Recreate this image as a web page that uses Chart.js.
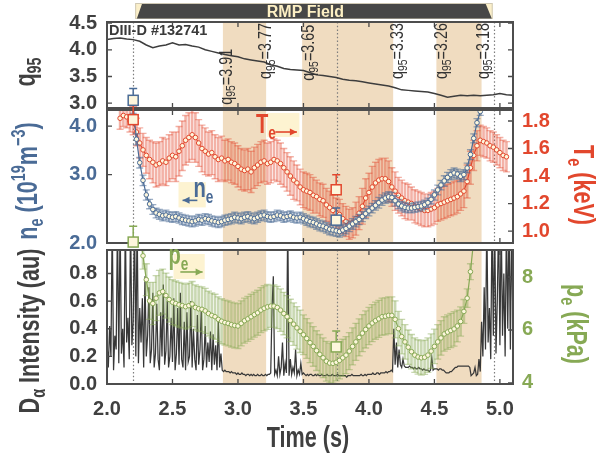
<!DOCTYPE html>
<html>
<head>
<meta charset="utf-8">
<script src="https://cdn.jsdelivr.net/npm/chart.js@4.4.1/dist/chart.umd.min.js"></script>
<style>
  html, body { margin: 0; padding: 0; background: #fff; }
  #wrap { position: relative; width: 596px; height: 457px; overflow: hidden; }
  #wrap canvas { position: absolute; left: 0; top: 0; }
</style>
</head>
<body>
<div id="wrap">
  <canvas id="cq" width="596" height="457"></canvas>
  <canvas id="cm" width="596" height="457"></canvas>
  <canvas id="cb" width="596" height="457"></canvas>
</div>
<script>
const FONT = '"Liberation Sans", Arial, Helvetica, sans-serif';
Chart.defaults.font.family = FONT;

// ---- axes / ticks ----
const xTicks = [2.0, 2.5, 3.0, 3.5, 4.0, 4.5, 5.0];
const q95Ticks = [3.0, 3.5, 4.0, 4.5];
const neTicks = [2.0, 3.0, 4.0];
const teTicks = [1.0, 1.2, 1.4, 1.6, 1.8];
const daTicks = [0.0, 0.2, 0.4, 0.6, 0.8];
const peTicks = [4, 6, 8];

// ---- time windows ----
const bandStart = [2.885, 3.49, 4.515];
const bandEnd = [3.215, 4.185, 4.86];
const markTimes = [2.2, 3.755, 4.955];
const rmpBox = [2.215, 4.945];
const rmpRamp = [2.228, 2.267, 4.892, 4.938];

// ---- q95 (every 0.05 s from 2.0) ----
const Q95_T0 = 2.0, Q95_DT = 0.05;
const q95Val = [
  4.19, 4.21, 4.22, 4.20, 4.19, 4.16, 4.09, 4.04, 4.07, 4.09,
  4.13, 4.09, 4.10, 4.07, 4.05, 4.00, 3.97, 3.94, 3.91, 3.89,
  3.87, 3.83, 3.81, 3.79, 3.77, 3.72, 3.69, 3.65, 3.63, 3.62,
  3.61, 3.57, 3.53, 3.52, 3.50, 3.48, 3.45, 3.43, 3.42, 3.40,
  3.38, 3.36, 3.34, 3.32, 3.29, 3.25, 3.24, 3.23, 3.22, 3.21,
  3.18, 3.15, 3.11, 3.13, 3.15, 3.14, 3.15, 3.14, 3.15, 3.16,
  3.18, 3.16, 3.15
];
const q95Labels = ['3.91', '3.77', '3.65', '3.33', '3.26', '3.18'];
const q95LabelTimes = [2.915, 3.215, 3.546, 4.223, 4.558, 4.877];
const q95LabelTop = [4.02, 4.50, 4.47, 4.50, 4.50, 4.50];

// ---- Te (keV), every 0.025 s from 2.1 ----
const TE_T0 = 2.1, STEP = 0.025;
const teVal = [
  1.82, 1.84, 1.83, 1.80, 1.79, 1.72, 1.64, 1.59, 1.55, 1.52,
  1.50, 1.48, 1.49, 1.51, 1.50, 1.53, 1.55, 1.54, 1.58, 1.62,
  1.66, 1.68, 1.70, 1.68, 1.64, 1.60, 1.58, 1.56, 1.57, 1.54,
  1.52, 1.53, 1.51, 1.52, 1.50, 1.49, 1.47, 1.45, 1.44, 1.45,
  1.43, 1.46, 1.48, 1.50, 1.51, 1.49, 1.50, 1.52, 1.51, 1.49,
  1.46, 1.43, 1.40, 1.37, 1.35, 1.32, 1.30, 1.29, 1.28, 1.26,
  1.25, 1.23, 1.22, 1.19, 1.17, 1.15, 1.13, 1.12, 1.09, 1.07,
  1.05, 1.06, 1.09, 1.13, 1.18, 1.24, 1.28, 1.32, 1.35, 1.37,
  1.38, 1.38, 1.36, 1.32, 1.29, 1.26, 1.24, 1.22, 1.21, 1.20,
  1.18, 1.17, 1.16, 1.15, 1.15, 1.16, 1.17, 1.19, 1.20, 1.21,
  1.22, 1.23, 1.24, 1.25, 1.27, 1.29, 1.36, 1.46, 1.55, 1.62,
  1.66, 1.65, 1.64, 1.62, 1.61, 1.59, 1.57, 1.55, 1.54
];
const teErr = [
  0.08, 0.08, 0.08, 0.08, 0.09, 0.10, 0.11, 0.12, 0.13, 0.14,
  0.15, 0.16, 0.16, 0.17, 0.17, 0.17, 0.17, 0.18, 0.18, 0.18,
  0.18, 0.18, 0.18, 0.18, 0.17, 0.17, 0.17, 0.16, 0.16, 0.16,
  0.16, 0.16, 0.15, 0.15, 0.15, 0.15, 0.15, 0.15, 0.15, 0.15,
  0.15, 0.15, 0.15, 0.15, 0.15, 0.15, 0.15, 0.15, 0.15, 0.15,
  0.14, 0.14, 0.14, 0.14, 0.13, 0.13, 0.13, 0.13, 0.13, 0.13,
  0.12, 0.12, 0.12, 0.12, 0.12, 0.11, 0.11, 0.11, 0.11, 0.11,
  0.11, 0.11, 0.12, 0.12, 0.13, 0.14, 0.14, 0.15, 0.15, 0.15,
  0.15, 0.15, 0.15, 0.14, 0.14, 0.13, 0.13, 0.13, 0.13, 0.12,
  0.12, 0.12, 0.12, 0.12, 0.12, 0.12, 0.12, 0.12, 0.12, 0.12,
  0.12, 0.12, 0.12, 0.12, 0.12, 0.12, 0.12, 0.12, 0.11, 0.11,
  0.11, 0.11, 0.11, 0.11, 0.11, 0.11, 0.11, 0.11, 0.11
];

// ---- ne (1e19 m^-3), every 0.025 s from 2.2 ----
const NE_T0 = 2.2;
const neVal = [
  4.45, 3.70, 3.22, 2.90, 2.66, 2.52, 2.44, 2.39, 2.37, 2.35,
  2.36, 2.34, 2.33, 2.34, 2.32, 2.30, 2.29, 2.28, 2.27, 2.28,
  2.30, 2.29, 2.31, 2.30, 2.28, 2.27, 2.26, 2.27, 2.29, 2.30,
  2.31, 2.33, 2.32, 2.31, 2.33, 2.34, 2.32, 2.31, 2.33, 2.35,
  2.36, 2.34, 2.33, 2.34, 2.36, 2.35, 2.33, 2.34, 2.35, 2.33,
  2.32, 2.33, 2.31, 2.29, 2.27, 2.26, 2.24, 2.22, 2.21, 2.19,
  2.17, 2.16, 2.15, 2.14, 2.16, 2.18, 2.21, 2.24, 2.27, 2.30,
  2.34, 2.38, 2.42, 2.46, 2.50, 2.54, 2.58, 2.61, 2.63, 2.62,
  2.57, 2.52, 2.49, 2.47, 2.46, 2.46, 2.47, 2.48, 2.49, 2.51,
  2.54, 2.59, 2.66, 2.74, 2.82, 2.89, 2.95, 3.00, 3.03, 3.01,
  2.97, 3.00, 3.12, 3.38, 3.72, 4.08, 4.36
];
const neErr = [
  0.14, 0.12, 0.10, 0.09, 0.08, 0.07, 0.07, 0.07, 0.07, 0.07,
  0.07, 0.07, 0.07, 0.07, 0.07, 0.07, 0.07, 0.07, 0.07, 0.07,
  0.07, 0.07, 0.07, 0.07, 0.07, 0.07, 0.07, 0.07, 0.07, 0.07,
  0.07, 0.07, 0.07, 0.07, 0.07, 0.07, 0.07, 0.07, 0.07, 0.07,
  0.07, 0.07, 0.07, 0.07, 0.07, 0.07, 0.07, 0.07, 0.07, 0.07,
  0.07, 0.07, 0.07, 0.07, 0.07, 0.07, 0.07, 0.07, 0.07, 0.07,
  0.07, 0.07, 0.07, 0.07, 0.07, 0.07, 0.07, 0.07, 0.07, 0.07,
  0.07, 0.07, 0.07, 0.07, 0.07, 0.08, 0.08, 0.08, 0.08, 0.08,
  0.08, 0.07, 0.07, 0.07, 0.07, 0.07, 0.07, 0.07, 0.07, 0.07,
  0.07, 0.07, 0.08, 0.08, 0.08, 0.09, 0.09, 0.09, 0.09, 0.09,
  0.09, 0.09, 0.09, 0.10, 0.10, 0.10, 0.10
];

// ---- pe (kPa), every 0.025 s from 2.25 ----
const PE_T0 = 2.25;
const peVal = [
  9.60, 8.80, 7.90, 7.10, 7.00, 7.20, 7.40, 7.45, 7.30, 7.15,
  7.05, 7.00, 6.95, 6.92, 6.88, 6.92, 6.98, 6.85, 6.80, 6.78,
  6.72, 6.62, 6.55, 6.50, 6.40, 6.33, 6.28, 6.25, 6.20, 6.17,
  6.15, 6.25, 6.35, 6.42, 6.50, 6.58, 6.65, 6.75, 6.82, 6.87,
  6.90, 6.90, 6.85, 6.75, 6.62, 6.50, 6.36, 6.22, 6.08, 5.95,
  5.82, 5.68, 5.52, 5.38, 5.22, 5.08, 4.95, 4.82, 4.75, 4.74,
  4.78, 4.85, 4.95, 5.05, 5.20, 5.38, 5.55, 5.72, 5.88, 6.02,
  6.15, 6.26, 6.35, 6.42, 6.50, 6.52, 6.55, 6.55, 6.40, 6.05,
  5.75, 5.55, 5.35, 5.18, 5.05, 4.98, 4.95, 4.97, 5.05, 5.20,
  5.38, 5.55, 5.70, 5.85, 5.92, 5.98, 6.04, 6.15, 6.32, 6.70,
  7.20, 8.20, 9.40
];
const peErr = [
  0.40, 0.50, 0.60, 0.70, 0.80, 0.85, 0.85, 0.85, 0.85, 0.85,
  0.85, 0.85, 0.85, 0.85, 0.85, 0.85, 0.85, 0.85, 0.85, 0.85,
  0.85, 0.85, 0.85, 0.85, 0.85, 0.85, 0.85, 0.85, 0.85, 0.85,
  0.85, 0.85, 0.85, 0.85, 0.85, 0.85, 0.85, 0.85, 0.85, 0.85,
  0.80, 0.80, 0.80, 0.80, 0.80, 0.80, 0.80, 0.80, 0.80, 0.80,
  0.75, 0.75, 0.75, 0.75, 0.75, 0.75, 0.75, 0.75, 0.75, 0.75,
  0.70, 0.70, 0.70, 0.70, 0.70, 0.70, 0.70, 0.70, 0.70, 0.70,
  0.70, 0.70, 0.70, 0.70, 0.70, 0.70, 0.70, 0.70, 0.70, 0.65,
  0.65, 0.65, 0.65, 0.65, 0.65, 0.65, 0.65, 0.65, 0.65, 0.65,
  0.65, 0.65, 0.65, 0.65, 0.65, 0.65, 0.65, 0.60, 0.55, 0.45,
  0.35, 0.30, 0.30
];

// ---- D-alpha (au), every 0.01 s from 2.0 ----
const DA_T0 = 2.0, DA_DT = 0.01;
const daVal = [
  0.30, 0.12, 0.42, 0.20, 1.20, 0.10, 0.35, 0.25, 1.20, 0.15,
  1.20, 0.22, 0.40, 0.12, 1.20, 0.30, 0.48, 0.18, 1.20, 0.28,
  0.45, 1.20, 0.20, 1.20, 0.15, 0.55, 0.30, 0.62, 0.12, 0.78,
  0.20, 0.35, 0.70, 0.15, 0.25, 0.66, 0.12, 0.22, 0.58, 0.18,
  0.10, 0.52, 0.20, 0.72, 0.14, 0.24, 0.60, 0.12, 0.20, 0.48,
  0.16, 0.62, 0.10, 0.22, 0.55, 0.14, 0.66, 0.18, 0.12, 0.45,
  0.10, 0.52, 0.16, 0.20, 0.60, 0.12, 0.40, 0.18, 0.10, 0.50,
  0.14, 0.25, 0.55, 0.10, 0.18, 0.42, 0.12, 0.30, 0.16, 0.38,
  0.10, 0.36, 0.14, 0.28, 0.10, 0.45, 0.12, 0.22, 0.10, 0.09,
  0.10, 0.09, 0.09, 0.09, 0.08, 0.09, 0.08, 0.08, 0.08, 0.07,
  0.08, 0.07, 0.07, 0.08, 0.07, 0.07, 0.06, 0.07, 0.07, 0.06,
  0.07, 0.06, 0.07, 0.06, 0.06, 0.07, 0.06, 0.06, 0.07, 0.06,
  0.06, 0.07, 0.06, 0.07, 0.07, 0.08, 0.55, 0.78, 0.07, 0.10,
  0.06, 0.20, 0.07, 0.12, 0.30, 0.06, 0.15, 0.08, 1.20, 0.06,
  0.18, 0.07, 0.12, 0.08, 0.25, 0.06, 0.10, 0.07, 0.15, 0.07,
  0.08, 0.07, 0.06, 0.07, 0.06, 0.07, 0.07, 0.06, 0.06, 0.07,
  0.06, 0.07, 0.06, 0.06, 0.07, 0.06, 0.06, 0.06, 0.07, 0.06,
  0.06, 0.06, 0.07, 0.06, 0.06, 0.06, 0.07, 0.06, 0.06, 0.06,
  0.06, 0.06, 0.06, 0.05, 0.06, 0.06, 0.06, 0.07, 0.06, 0.06,
  0.06, 0.06, 0.06, 0.06, 0.07, 0.06, 0.06, 0.07, 0.06, 0.07,
  0.07, 0.07, 0.07, 0.08, 0.07, 0.07, 0.08, 0.08, 0.07, 0.08,
  0.08, 0.08, 0.08, 0.09, 0.08, 0.09, 0.09, 0.10, 0.09, 0.40,
  0.14, 0.30, 0.12, 0.25, 0.14, 0.12, 0.18, 0.13, 0.12, 0.12,
  0.12, 0.13, 0.12, 0.12, 0.11, 0.12, 0.11, 0.11, 0.12, 0.11,
  0.11, 0.10, 0.11, 0.10, 0.10, 0.10, 0.09, 0.10, 0.19, 0.10,
  0.11, 0.11, 0.11, 0.10, 0.11, 0.11, 0.10, 0.10, 0.09, 0.08,
  0.08, 0.08, 0.09, 0.09, 0.10, 0.11, 0.12, 0.12, 0.13, 0.13,
  0.13, 0.13, 0.13, 0.13, 0.13, 0.13, 0.13, 0.12, 0.06, 0.07,
  0.08, 0.12, 0.06, 0.07, 0.18, 0.09, 0.45, 0.20, 0.70, 0.25,
  1.20, 0.30, 0.55, 0.18, 1.20, 0.35, 1.20, 0.22, 0.60, 1.20,
  0.28, 1.20, 0.35, 0.80, 0.20, 1.20, 0.40, 1.20, 0.25, 1.20,
  0.35
];

// ---- reference (square) points ----
const refTime = [2.2, 3.75];
const neRef = [4.66, 2.29], neRefErr = [0.34, 0.17];
const teRef = [1.81, 1.30], teRefErr = [0.10, 0.11];
const peRef = [9.32, 5.36], peRefErr = [0.60, 0.60];

// ---- colours ----
const TXT = '#404040';
const NE_C = '#4a6b96';
const TE_C = '#e2472d';
const PE_C = '#87a955';
const BAND = '#f0dcc0';
const CREAM = '#fdf6dc';
const TAGBG = '#fdf3d1';

const times = (t0, dt, arr) => arr.map((_, i) => +(t0 + i * dt).toFixed(3));
const toPts = (ts, vs) => ts.map((t, i) => ({ x: t, y: vs[i] }));

const q95Time = times(Q95_T0, Q95_DT, q95Val);
const teTime = times(TE_T0, STEP, teVal);
const neTime = times(NE_T0, STEP, neVal);
const peTime = times(PE_T0, STEP, peVal);
const daTime = times(DA_T0, DA_DT, daVal);

// in-plot tags (anchored in data units)
const tags = {
  mid: [
    { axis: 'yt', main: 'T', color: TE_C, t: 3.138, v: 1.713, box: [3.223, 3.469, 1.684, 1.858], arrow: [3.285, 3.45, 1.72], dir: 1 },
    { axis: 'yn', main: 'n', color: NE_C, t: 2.66, v: 2.63, box: [2.546, 2.754, 2.47, 2.87], arrow: [2.577, 2.69, 2.575], dir: -1 }
  ],
  bot: [
    { axis: 'yp', main: 'p', color: PE_C, t: 2.47, v: 8.49, box: [2.508, 2.746, 7.92, 8.87], arrow: [2.56, 2.73, 8.19], dir: 1 }
  ]
};

function drawRich(ctx, runs, x, y, o) {
  ctx.save();
  ctx.translate(x, y);
  if (o.rot) ctx.rotate(o.rot);
  if (o.sx) ctx.scale(o.sx, 1);
  ctx.fillStyle = o.color;
  ctx.textAlign = 'left';
  ctx.textBaseline = o.base || 'alphabetic';
  const w = o.weight || 'bold';
  let total = 0;
  const widths = runs.map(r => {
    ctx.font = w + ' ' + r.s + 'px ' + FONT;
    const m = ctx.measureText(r.t).width;
    total += m;
    return m;
  });
  let cx = o.align === 'center' ? -total / 2 : o.align === 'right' ? -total : 0;
  runs.forEach((r, i) => {
    ctx.font = w + ' ' + r.s + 'px ' + FONT;
    ctx.fillText(r.t, cx, r.dy || 0);
    cx += widths[i];
  });
  ctx.restore();
}

function drawBands(chart) {
  const { ctx, chartArea: a } = chart, xs = chart.scales.x;
  ctx.save();
  ctx.fillStyle = BAND;
  bandStart.forEach((s, i) => {
    const x0 = xs.getPixelForValue(s), x1 = xs.getPixelForValue(bandEnd[i]);
    ctx.fillRect(x0, a.top, x1 - x0, a.bottom - a.top);
  });
  ctx.strokeStyle = '#7d7d7d';
  ctx.lineWidth = 1.2;
  ctx.setLineDash([1.5, 2.2]);
  ctx.beginPath();
  markTimes.forEach(t => {
    const x = Math.round(xs.getPixelForValue(t)) + 0.5;
    ctx.moveTo(x, a.top);
    ctx.lineTo(x, a.bottom);
  });
  ctx.stroke();
  ctx.restore();
}

function drawErrBars(chart, yId, eb) {
  const { ctx, chartArea: a } = chart, xs = chart.scales.x, ys = chart.scales[yId];
  ctx.save();
  ctx.beginPath();
  ctx.rect(a.left, a.top, a.right - a.left, a.bottom - a.top);
  ctx.clip();
  ctx.strokeStyle = eb.color;
  ctx.lineWidth = eb.lw;
  ctx.beginPath();
  eb.t.forEach((t, i) => {
    const x = xs.getPixelForValue(t);
    const yHi = ys.getPixelForValue(eb.v[i] + eb.e[i]);
    const yLo = ys.getPixelForValue(eb.v[i] - eb.e[i]);
    ctx.moveTo(x, yLo); ctx.lineTo(x, yHi);
  });
  ctx.stroke();
  ctx.lineWidth = 1.3;
  ctx.beginPath();
  eb.t.forEach((t, i) => {
    const x = xs.getPixelForValue(t);
    const yHi = ys.getPixelForValue(eb.v[i] + eb.e[i]);
    const yLo = ys.getPixelForValue(eb.v[i] - eb.e[i]);
    ctx.moveTo(x - eb.cap, yHi); ctx.lineTo(x + eb.cap, yHi);
    ctx.moveTo(x - eb.cap, yLo); ctx.lineTo(x + eb.cap, yLo);
  });
  ctx.stroke();
  ctx.restore();
}

function drawRefs(chart, yId, vals, errs, color) {
  const ctx = chart.ctx, xs = chart.scales.x, ys = chart.scales[yId];
  ctx.save();
  refTime.forEach((t, i) => {
    const x = xs.getPixelForValue(t), y = ys.getPixelForValue(vals[i]);
    const yt = ys.getPixelForValue(vals[i] + errs[i]);
    ctx.strokeStyle = color;
    ctx.lineWidth = 1.5;
    ctx.beginPath();
    ctx.moveTo(x, y); ctx.lineTo(x, yt);
    ctx.moveTo(x - 4, yt); ctx.lineTo(x + 4, yt);
    ctx.stroke();
    ctx.fillStyle = CREAM;
    ctx.fillRect(x - 5, y - 5, 10, 10);
    ctx.strokeRect(x - 5, y - 5, 10, 10);
  });
  ctx.restore();
}

function drawFrame(chart, yl, lt, yr, rt) {
  const { ctx, chartArea: a } = chart, xs = chart.scales.x;
  ctx.save();
  ctx.strokeStyle = '#4a4a4a';
  ctx.lineWidth = 1.3;
  ctx.beginPath();
  xTicks.forEach(t => {
    const x = xs.getPixelForValue(t);
    ctx.moveTo(x, a.bottom); ctx.lineTo(x, a.bottom - 5);
    ctx.moveTo(x, a.top); ctx.lineTo(x, a.top + 5);
  });
  lt.forEach(v => {
    const y = chart.scales[yl].getPixelForValue(v);
    ctx.moveTo(a.left, y); ctx.lineTo(a.left + 5, y);
    if (!yr) { ctx.moveTo(a.right, y); ctx.lineTo(a.right - 5, y); }
  });
  if (yr) rt.forEach(v => {
    const y = chart.scales[yr].getPixelForValue(v);
    ctx.moveTo(a.right, y); ctx.lineTo(a.right - 5, y);
  });
  ctx.stroke();
  ctx.lineWidth = 2;
  ctx.strokeStyle = '#4d4d4d';
  ctx.strokeRect(a.left, a.top, a.right - a.left, a.bottom - a.top);
  ctx.restore();
}

function drawTag(chart, tag) {
  const ctx = chart.ctx, xs = chart.scales.x, ys = chart.scales[tag.axis];
  const bx0 = xs.getPixelForValue(tag.box[0]), bx1 = xs.getPixelForValue(tag.box[1]);
  const by0 = ys.getPixelForValue(tag.box[3]), by1 = ys.getPixelForValue(tag.box[2]);
  ctx.save();
  ctx.fillStyle = TAGBG;
  ctx.fillRect(bx0, by0, bx1 - bx0, by1 - by0);
  drawRich(ctx, [{ t: tag.main, s: 28 }, { t: 'e', s: 19, dy: 6 }],
    xs.getPixelForValue(tag.t), ys.getPixelForValue(tag.v), { color: tag.color, sx: 0.72 });
  const ax0 = xs.getPixelForValue(tag.arrow[0]), ax1 = xs.getPixelForValue(tag.arrow[1]);
  const ay = ys.getPixelForValue(tag.arrow[2]);
  const tip = tag.dir > 0 ? ax1 : ax0;
  ctx.strokeStyle = tag.color;
  ctx.fillStyle = tag.color;
  ctx.lineWidth = 1.6;
  ctx.beginPath();
  ctx.moveTo(ax0, ay); ctx.lineTo(ax1, ay);
  ctx.stroke();
  ctx.beginPath();
  ctx.moveTo(tip, ay);
  ctx.lineTo(tip - tag.dir * 7, ay - 3.5);
  ctx.lineTo(tip - tag.dir * 7, ay + 3.5);
  ctx.closePath();
  ctx.fill();
  ctx.restore();
}

const R90 = Math.PI / 2;

const decor = {
  id: 'decor',
  beforeDatasetsDraw(chart) { drawBands(chart); },
  beforeDatasetDraw(chart, args) {
    const ds = chart.data.datasets[args.index];
    if (ds.errBars) drawErrBars(chart, ds.yAxisID, ds.errBars);
  },
  afterDatasetsDraw(chart, args, opts) {
    const ctx = chart.ctx, xs = chart.scales.x;
    if (opts.panel === 'top') {
      drawFrame(chart, 'yq', q95Ticks);
      const yq = chart.scales.yq;
      q95Labels.forEach((lab, i) => {
        drawRich(ctx, [{ t: 'q', s: 18 }, { t: '95', s: 13, dy: 5 }, { t: '=' + lab, s: 18 }],
          xs.getPixelForValue(q95LabelTimes[i]), yq.getPixelForValue(q95LabelTop[i]),
          { rot: -R90, align: 'right', base: 'middle', color: '#333', weight: 'normal', sx: 0.8 });
      });
      ctx.save();
      ctx.fillStyle = '#3a3a3a';
      ctx.font = 'bold 14.5px ' + FONT;
      ctx.textBaseline = 'alphabetic';
      ctx.fillText('DIII-D #132741', chart.chartArea.left + 2, chart.chartArea.top + 13);
      ctx.restore();
    } else if (opts.panel === 'mid') {
      drawFrame(chart, 'yn', neTicks, 'yt', teTicks);
      tags.mid.forEach(t => drawTag(chart, t));
      drawRefs(chart, 'yt', teRef, teRefErr, TE_C);
      drawRefs(chart, 'yn', neRef, neRefErr, NE_C);
    } else {
      drawFrame(chart, 'yd', daTicks, 'yp', peTicks);
      tags.bot.forEach(t => drawTag(chart, t));
      drawRefs(chart, 'yp', peRef, peRefErr, PE_C);
    }
  },
  afterDraw(chart, args, opts) {
    const ctx = chart.ctx, xs = chart.scales.x;
    if (opts.panel === 'top') {
      drawRich(ctx, [{ t: 'q', s: 30 }, { t: '95', s: 20, dy: 6 }], 35, 72,
        { rot: -R90, align: 'center', color: TXT, sx: 0.72 });
      // RMP field bar
      const xb0 = xs.getPixelForValue(rmpBox[0]), xb1 = xs.getPixelForValue(rmpBox[1]);
      ctx.save();
      ctx.fillStyle = '#fbefc9';
      ctx.fillRect(xb0, 3, xb1 - xb0, 16);
      ctx.strokeStyle = '#cfc8b4';
      ctx.lineWidth = 1;
      ctx.strokeRect(xb0 + 0.5, 3.5, xb1 - xb0 - 1, 15);
      ctx.fillStyle = '#474747';
      ctx.beginPath();
      ctx.moveTo(xs.getPixelForValue(rmpRamp[0]), 18.5);
      ctx.lineTo(xs.getPixelForValue(rmpRamp[1]), 4);
      ctx.lineTo(xs.getPixelForValue(rmpRamp[2]), 4);
      ctx.lineTo(xs.getPixelForValue(rmpRamp[3]), 18.5);
      ctx.closePath();
      ctx.fill();
      ctx.restore();
      drawRich(ctx, [{ t: 'RMP Field', s: 16 }], xs.getPixelForValue(3.515), 17,
        { align: 'center', color: '#fdf0c4' });
    } else if (opts.panel === 'mid') {
      drawRich(ctx, [
        { t: 'n', s: 30 }, { t: 'e', s: 20, dy: 6 }, { t: ' (10', s: 30 },
        { t: '19', s: 20, dy: -12 }, { t: 'm', s: 30 }, { t: '\u22123', s: 20, dy: -12 }, { t: ')', s: 30 }
      ], 37, 181, { rot: -R90, align: 'center', color: NE_C, sx: 0.72 });
      drawRich(ctx, [{ t: 'T', s: 30 }, { t: 'e', s: 20, dy: 6 }, { t: ' (keV)', s: 30 }],
        574, 185, { rot: R90, align: 'center', color: TE_C, sx: 0.72 });
    } else {
      drawRich(ctx, [{ t: 'D', s: 30 }, { t: '\u03b1', s: 20, dy: 6 }, { t: ' Intensity (au)', s: 30 }],
        39, 331, { rot: -R90, align: 'center', color: TXT, sx: 0.72 });
      drawRich(ctx, [{ t: 'p', s: 30 }, { t: 'e', s: 20, dy: 6 }, { t: ' (kPa)', s: 30 }],
        567, 324, { rot: R90, align: 'center', color: PE_C, sx: 0.72 });
      drawRich(ctx, [{ t: 'Time (s)', s: 30 }], 308, 447, { align: 'center', color: TXT, sx: 0.72 });
    }
  }
};

const setTicks = arr => axis => { axis.ticks = arr.map(v => ({ value: v })); };
const tickFont = { size: 20, weight: 'bold' };

function yAxis(pos, min, max, ticks, color, fmt, extra) {
  return Object.assign({
    type: 'linear', position: pos, min, max,
    afterFit: s => { s.width = pos === 'left' ? 107 : 83; },
    afterBuildTicks: setTicks(ticks),
    grid: { display: false, drawTicks: false },
    border: { display: false },
    ticks: { color, font: tickFont, padding: pos === 'left' ? 10 : 9, autoSkip: false, callback: fmt }
  }, extra || {});
}
const f1 = v => Number(v).toFixed(1);
const f0 = v => Number(v).toFixed(0);

function xAxis(show) {
  return {
    type: 'linear', min: 2.0, max: 5.1, display: show,
    afterBuildTicks: setTicks(xTicks),
    afterFit: s => { if (show) s.height = 73; },
    grid: { display: false, drawTicks: false },
    border: { display: false },
    ticks: { color: TXT, font: tickFont, padding: 13, autoSkip: false, maxRotation: 0, callback: f1 }
  };
}

const base = {
  responsive: false, animation: false, events: [],
};

new Chart(document.getElementById('cq'), {
  type: 'line',
  data: {
    datasets: [{
      data: toPts(q95Time, q95Val), yAxisID: 'yq',
      borderColor: '#3d3d3d', borderWidth: 1.5, pointRadius: 0, tension: 0
    }]
  },
  options: Object.assign({}, base, {
    layout: { padding: { top: 20, bottom: 349, left: 0, right: 83 } },
    plugins: { legend: { display: false }, tooltip: { enabled: false }, decor: { panel: 'top' } },
    scales: { x: xAxis(false), yq: yAxis('left', 2.91, 4.52, q95Ticks, TXT, f1) }
  }),
  plugins: [decor]
});

new Chart(document.getElementById('cm'), {
  type: 'line',
  data: {
    datasets: [
      {
        data: toPts(teTime, teVal), yAxisID: 'yt', order: 2,
        borderColor: TE_C, borderWidth: 1.2, tension: 0,
        pointRadius: 2.3, pointBorderWidth: 1, pointBackgroundColor: CREAM, pointBorderColor: TE_C,
        errBars: { t: teTime, v: teVal, e: teErr, color: 'rgba(226,71,45,0.42)', lw: 2.6, cap: 3.5 }
      },
      {
        data: toPts(neTime, neVal), yAxisID: 'yn', order: 1,
        borderColor: NE_C, borderWidth: 1.2, tension: 0,
        pointRadius: 2.3, pointBorderWidth: 1, pointBackgroundColor: CREAM, pointBorderColor: NE_C,
        errBars: { t: neTime, v: neVal, e: neErr, color: 'rgba(74,107,150,0.55)', lw: 2.6, cap: 3.5 }
      }
    ]
  },
  options: Object.assign({}, base, {
    layout: { padding: { top: 110, bottom: 214, left: 0, right: 0 } },
    plugins: { legend: { display: false }, tooltip: { enabled: false }, decor: { panel: 'mid' } },
    scales: {
      x: xAxis(false),
      yn: yAxis('left', 2.0, 4.4, neTicks, NE_C, f1, { type: 'logarithmic' }),
      yt: yAxis('right', 0.913, 1.88, teTicks, TE_C, f1)
    }
  }),
  plugins: [decor]
});

new Chart(document.getElementById('cb'), {
  type: 'line',
  data: {
    datasets: [
      {
        data: toPts(daTime, daVal), yAxisID: 'yd', order: 2,
        borderColor: '#383838', borderWidth: 1.25, pointRadius: 0, tension: 0
      },
      {
        data: toPts(peTime, peVal), yAxisID: 'yp', order: 1,
        borderColor: PE_C, borderWidth: 1.2, tension: 0,
        pointRadius: 2.3, pointBorderWidth: 1, pointBackgroundColor: CREAM, pointBorderColor: PE_C,
        errBars: { t: peTime, v: peVal, e: peErr, color: 'rgba(135,169,85,0.45)', lw: 2.6, cap: 3.5 }
      }
    ]
  },
  options: Object.assign({}, base, {
    layout: { padding: { top: 250, bottom: 0, left: 0, right: 0 } },
    plugins: { legend: { display: false }, tooltip: { enabled: false }, decor: { panel: 'bot' } },
    scales: {
      x: xAxis(true),
      yd: yAxis('left', 0, 0.97, daTicks, TXT, f1),
      yp: yAxis('right', 3.96, 9.02, peTicks, PE_C, f0)
    }
  }),
  plugins: [decor]
});
</script>
</body>
</html>
